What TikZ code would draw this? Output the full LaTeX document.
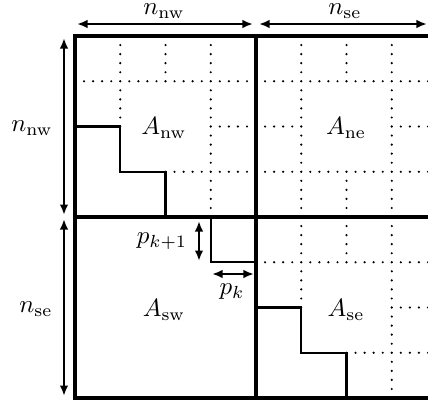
\documentclass[tikz,border=0pt]{standalone}
\usetikzlibrary{arrows.meta}
\begin{document}
\begin{tikzpicture}[x=0.4pt,y=-0.4pt,
  dots/.style={line width=0.95pt,line cap=round,dash pattern=on 0pt off 3.62pt},
  stair/.style={line width=0.85pt},
  frame/.style={line width=1.35pt},
  dim/.style={line width=0.85pt,{Latex[length=4.2pt,width=3.4pt]}-{Latex[length=4.2pt,width=3.4pt]}},
  lab/.style={inner sep=0pt},
  blockA/.pic={
    \draw[dots] (1,0) -- (1,2);
    \draw[dots] (2,0) -- (2,1);
    \draw[dots] (3,0) -- (3,4);
    \draw[dots] (0,1) -- (4,1);
    \draw[dots] (3,2) -- (4,2);
    \draw[dots] (2,3) -- (4,3);
    \draw[stair] (0,2) -- (1,2) -- (1,3) -- (2,3) -- (2,4);
  },
  blockB/.pic={
    \draw[dots] (1,0) -- (1,4);
    \draw[dots] (2,0) -- (2,1);
    \draw[dots] (2,3) -- (2,4);
    \draw[dots] (3,0) -- (3,4);
    \draw[dots] (0,1) -- (4,1);
    \draw[dots] (0,2) -- (1,2);
    \draw[dots] (3,2) -- (4,2);
    \draw[dots] (0,3) -- (4,3);
  }]
\useasboundingbox (0,0) rectangle (428,403);
\clip (0,0) rectangle (428,403);

% grid blocks
\begin{scope}[xshift=30pt,yshift=-14.4pt,x=18.1pt,y=-18.1pt]
  \pic {blockA};
\end{scope}
\begin{scope}[xshift=102.4pt,yshift=-14.4pt,x=18.1pt,y=-18.1pt]
  \pic {blockB};
\end{scope}
\begin{scope}[xshift=102.4pt,yshift=-86.8pt,x=18.1pt,y=-18.1pt]
  \pic {blockA};
\end{scope}
\begin{scope}[xshift=30pt,yshift=-86.8pt,x=18.1pt,y=-18.1pt]
  \draw[stair] (3,0) -- (3,1) -- (4,1);
\end{scope}

% frame
\coordinate (tl) at (75,36);
\coordinate (tm) at (256,36);
\coordinate (tr) at (437,36);
\coordinate (ml) at (75,217);
\coordinate (mr) at (437,217);
\coordinate (bl) at (75,398);
\coordinate (bm) at (256,398);
\coordinate (br) at (437,398);
\draw[frame] (tl) -- (tr) -- (br) -- (bl) -- cycle;
\draw[frame] (tm) -- (bm);
\draw[frame] (ml) -- (mr);

% dimension arrows
\coordinate (h1a) at (77,24);
\coordinate (h1b) at (253,24);
\coordinate (h2a) at (259,24);
\coordinate (h2b) at (427,24);
\coordinate (v1a) at (64,38);
\coordinate (v1b) at (64,215);
\coordinate (v2a) at (64,219);
\coordinate (v2b) at (64,396);
\coordinate (pk1a) at (199,221);
\coordinate (pk1b) at (199,261);
\coordinate (pka) at (212,274);
\coordinate (pkb) at (254,274);
\draw[dim] (h1a) -- (h1b);
\draw[dim] (h2a) -- (h2b);
\draw[dim] (v1a) -- (v1b);
\draw[dim] (v2a) -- (v2b);
\draw[dim] (pk1a) -- (pk1b);
\draw[dim] (pka) -- (pkb);

% labels
\node[lab] (lnw) at (164,11) {$n_{\mathrm{nw}}$};
\node[lab] (lse) at (345,11) {$n_{\mathrm{se}}$};
\node[lab] (lnwl) at (32,128) {$n_{\mathrm{nw}}$};
\node[lab] (lsel) at (36,309) {$n_{\mathrm{se}}$};
\node[lab] (anw) at (164,128) {$A_{\mathrm{nw}}$};
\node[lab] (ane) at (346,128) {$A_{\mathrm{ne}}$};
\node[lab] (asw) at (164,310) {$A_{\mathrm{sw}}$};
\node[lab] (ase) at (346,310) {$A_{\mathrm{se}}$};
\node[lab] (lpk1) at (162,241) {$p_{k+1}$};
\node[lab] (lpk) at (232,292) {$p_{k}$};
\end{tikzpicture}
\end{document}
